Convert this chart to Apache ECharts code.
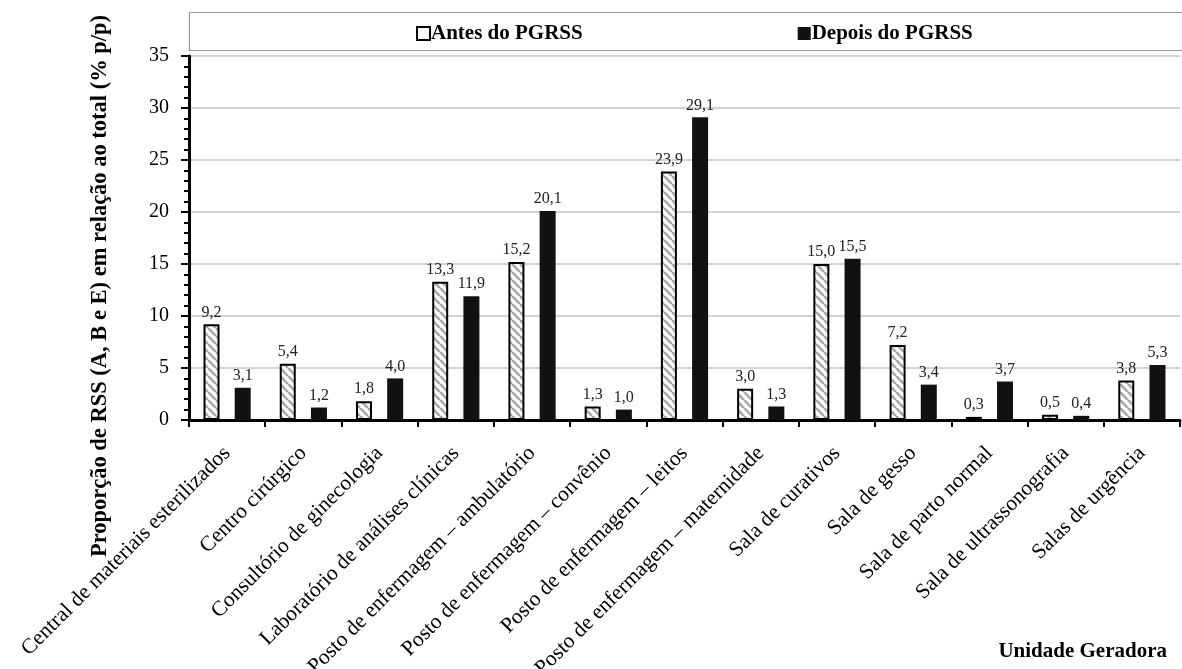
<!DOCTYPE html>
<html>
<head>
<meta charset="utf-8">
<script src="https://cdn.jsdelivr.net/npm/echarts@6/dist/echarts.min.js"></script>
<style>html,body{margin:0;padding:0;background:#fff}#c{width:1182px;height:669px}</style>
</head>
<body>
<div id="c"></div>
<script>
const categories = [
  'Central de materiais esterilizados',
  'Centro cirúrgico',
  'Consultório de ginecologia',
  'Laboratório de análises clínicas',
  'Posto de enfermagem – ambulatório',
  'Posto de enfermagem – convênio',
  'Posto de enfermagem – leitos',
  'Posto de enfermagem – maternidade',
  'Sala de curativos',
  'Sala de gesso',
  'Sala de parto normal',
  'Sala de ultrassonografia',
  'Salas de urgência'
];
const antes = [9.2, 5.4, 1.8, 13.3, 15.2, 1.3, 23.9, 3.0, 15.0, 7.2, 0.3, 0.5, 3.8];
const depois = [3.1, 1.2, 4.0, 11.9, 20.1, 1.0, 29.1, 1.3, 15.5, 3.4, 3.7, 0.4, 5.3];
const seriesNames = ['Antes do PGRSS', 'Depois do PGRSS'];
const yTicks = { min: 0, max: 35, interval: 5 };

const FONT = '"Liberation Serif", "Times New Roman", serif';

// hatch pattern
const pc = document.createElement('canvas');
pc.width = 8; pc.height = 8;
const g = pc.getContext('2d');
g.fillStyle = '#ffffff';
g.fillRect(0, 0, 8, 8);
g.strokeStyle = '#a8a8a8';
g.lineWidth = 2.6;
for (const k of [-8, 0, 8]) {
  g.beginPath();
  g.moveTo(k, 0);
  g.lineTo(k + 8, 8);
  g.stroke();
}

const fmt = p => p.value.toFixed(1).replace('.', ',');
const labelStyle = {
  show: true, position: 'top', distance: 4,
  fontFamily: FONT, fontSize: 16, color: '#222', formatter: fmt
};

const chart = echarts.init(document.getElementById('c'), null, { renderer: 'canvas' });
chart.setOption({
  animation: false,
  backgroundColor: '#fff',
  grid: { left: 189, right: 2, top: 56, bottom: 249, containLabel: false, outerBoundsMode: 'none' },
  graphic: [
    {
      type: 'rect', left: 187, top: 10,
      shape: { width: 993, height: 38 },
      style: { fill: 'none', stroke: '#999', lineWidth: 1.2 }
    },
    {
      type: 'text',
      rotation: Math.PI / 2,
      x: 100, y: 286,
      style: {
        text: 'Proporção de RSS (A, B e E) em relação ao total (% p/p)',
        fontFamily: FONT, fontSize: 22.5, fontWeight: 'bold', fill: '#000',
        textAlign: 'center', textVerticalAlign: 'middle'
      }
    }
  ],
  title: {
    text: 'Unidade Geradora', right: 10, bottom: 2,
    textStyle: { fontFamily: FONT, fontSize: 21, fontWeight: 'bold', color: '#000' }
  },
  legend: {
    left: 411, top: 18, itemGap: 215,
    itemWidth: 13, itemHeight: 13,
    icon: 'rect',
    textStyle: { fontFamily: FONT, fontSize: 21, fontWeight: 'bold', color: '#000', padding: [0, 0, 0, -4] },
    data: [
      { name: seriesNames[0], itemStyle: { color: '#fff', borderColor: '#000', borderWidth: 2 } },
      { name: seriesNames[1], itemStyle: { color: '#111', borderColor: '#111', borderWidth: 0 } }
    ]
  },
  xAxis: {
    type: 'category', data: categories,
    axisLine: { lineStyle: { color: '#000', width: 3 } },
    axisTick: { show: true, interval: 0, length: 7, lineStyle: { color: '#000', width: 2 } },
    axisLabel: {
      interval: 0, rotate: 45, margin: 30,
      fontFamily: FONT, fontSize: 21.5, color: '#000'
    }
  },
  yAxis: {
    type: 'value', min: yTicks.min, max: yTicks.max, interval: yTicks.interval,
    axisLine: { show: true, lineStyle: { color: '#000', width: 3 } },
    axisTick: { show: true, length: 8, lineStyle: { color: '#000', width: 2 } },
    minorTick: { show: true, splitNumber: 5, length: 5, lineStyle: { color: '#000', width: 2 } },
    splitLine: { show: true, lineStyle: { color: '#c4c4c4', width: 1.5 } },
    axisLabel: { margin: 20, fontFamily: FONT, fontSize: 20, color: '#000' }
  },
  series: [
    {
      name: seriesNames[0], type: 'bar', data: antes,
      barWidth: 16, barGap: '95%',
      itemStyle: { color: { image: pc, repeat: 'repeat' }, borderColor: '#000', borderWidth: 2 },
      label: labelStyle
    },
    {
      name: seriesNames[1], type: 'bar', data: depois,
      barWidth: 16, barGap: '95%',
      itemStyle: { color: '#111' },
      label: labelStyle
    }
  ]
});
</script>
</body>
</html>
